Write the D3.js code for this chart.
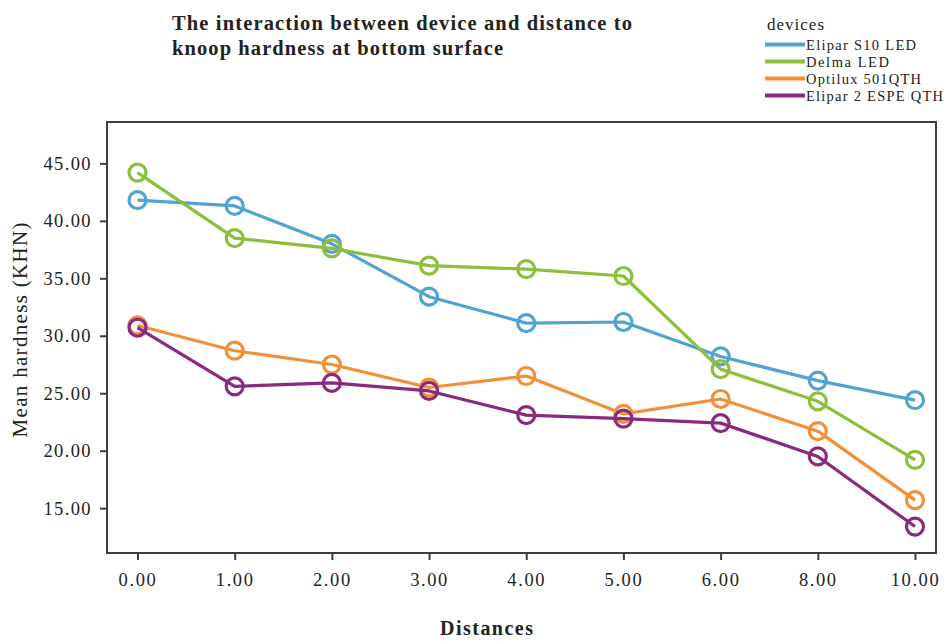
<!DOCTYPE html>
<html>
<head>
<meta charset="utf-8">
<script src="https://cdn.jsdelivr.net/npm/d3@7"></script>
<style>
  html, body { margin: 0; padding: 0; background: #fff; }
  svg { display: block; }
  text { font-family: "Liberation Serif", "Times New Roman", serif; fill: #222; }
</style>
</head>
<body>
<svg id="chart" width="946" height="641"></svg>
<script>
// ---- data ----
const categories = ["0.00", "1.00", "2.00", "3.00", "4.00", "5.00", "6.00", "8.00", "10.00"];
const seriesNames = ["Elipar S10 LED", "Delma LED", "Optilux 501QTH", "Elipar 2 ESPE QTH"];
const elipar = [41.8, 41.3, 38.0, 33.4, 31.1, 31.2, 28.2, 26.1, 24.4];
const delma = [44.2, 38.5, 37.6, 36.1, 35.8, 35.2, 27.1, 24.3, 19.2];
const optilux = [30.9, 28.7, 27.5, 25.5, 26.5, 23.2, 24.5, 21.7, 15.7];
const elipar2 = [30.7, 25.6, 25.9, 25.2, 23.1, 22.8, 22.4, 19.5, 13.4];
const yTicks = [15, 20, 25, 30, 35, 40, 45];
const colors = ["#52a2d2", "#8cbf3c", "#f0913a", "#8a2a7f"];

const seriesValues = [elipar, delma, optilux, elipar2];

const svg = d3.select("#chart");

// plot frame
const box = { left: 107, right: 936, top: 122, bottom: 553 };

const x = d3.scalePoint().domain(categories).range([137.5, 915]);
const y = d3.scaleLinear().domain([11.1, 48.6]).range([box.bottom, box.top]);

// frame
svg.append("rect")
  .attr("x", box.left).attr("y", box.top)
  .attr("width", box.right - box.left).attr("height", box.bottom - box.top)
  .attr("fill", "none").attr("stroke", "#3a3f45").attr("stroke-width", 2);

// y axis
const yAxis = svg.append("g")
  .attr("transform", `translate(${box.left},0)`)
  .call(d3.axisLeft(y).tickValues(yTicks).tickFormat(d3.format(".2f")).tickSize(7).tickPadding(8));
yAxis.select(".domain").remove();
yAxis.selectAll(".tick line").attr("stroke", "#3a3f45").attr("stroke-width", 2);
yAxis.selectAll(".tick text")
  .style("font-family", "'Liberation Serif', serif")
  .style("font-size", "18.5px").style("letter-spacing", "1.4px").attr("fill", "#222");

// x axis
const xAxis = svg.append("g")
  .attr("transform", `translate(0,${box.bottom})`)
  .call(d3.axisBottom(x).tickSize(7).tickPadding(13));
xAxis.select(".domain").remove();
xAxis.selectAll(".tick line").attr("stroke", "#3a3f45").attr("stroke-width", 2);
xAxis.selectAll(".tick text")
  .style("font-family", "'Liberation Serif', serif")
  .style("font-size", "18.5px").style("letter-spacing", "1.6px").attr("fill", "#222");

// lines & markers
const line = d3.line().x((d, i) => x(categories[i])).y(d => y(d));
seriesValues.forEach((vals, si) => {
  const g = svg.append("g");
  g.append("path").datum(vals)
    .attr("d", line).attr("fill", "none")
    .attr("stroke", colors[si]).attr("stroke-width", 3.2)
    .attr("stroke-linejoin", "round");
  g.selectAll("circle").data(vals).join("circle")
    .attr("cx", (d, i) => x(categories[i])).attr("cy", d => y(d))
    .attr("r", 8.5).attr("fill", "none")
    .attr("stroke", colors[si]).attr("stroke-width", 3.2);
});

// title
const title = svg.append("g");
title.append("text").attr("x", 172).attr("y", 30)
  .attr("font-weight", "bold").attr("font-size", 20.5)
  .attr("textLength", 460).attr("lengthAdjust", "spacing")
  .text("The interaction between device and distance to");
title.append("text").attr("x", 172).attr("y", 55)
  .attr("font-weight", "bold").attr("font-size", 20.5)
  .attr("textLength", 331).attr("lengthAdjust", "spacing")
  .text("knoop hardness at bottom surface");

// axis titles
svg.append("text")
  .attr("transform", "translate(27,330) rotate(-90)")
  .attr("text-anchor", "middle").attr("font-size", 21)
  .attr("textLength", 215).attr("lengthAdjust", "spacing")
  .text("Mean hardness (KHN)");
svg.append("text")
  .attr("x", 440).attr("y", 635)
  .attr("font-weight", "bold").attr("font-size", 20)
  .attr("textLength", 93).attr("lengthAdjust", "spacing")
  .text("Distances");

// legend
const legend = svg.append("g");
legend.append("text").attr("x", 767).attr("y", 30)
  .attr("font-size", 17).attr("fill", "#333")
  .attr("textLength", 57).attr("lengthAdjust", "spacing")
  .text("devices");
const legendWidths = [110, 83, 115, 137];
const legendRows = [44.5, 61.5, 78.5, 95.5];
seriesNames.forEach((name, i) => {
  legend.append("line")
    .attr("x1", 765).attr("x2", 805)
    .attr("y1", legendRows[i]).attr("y2", legendRows[i])
    .attr("stroke", colors[i]).attr("stroke-width", 4);
  legend.append("text")
    .attr("x", 806).attr("y", legendRows[i] + 5)
    .attr("font-size", 14.5)
    .attr("textLength", legendWidths[i]).attr("lengthAdjust", "spacing")
    .text(name);
});
</script>
</body>
</html>
